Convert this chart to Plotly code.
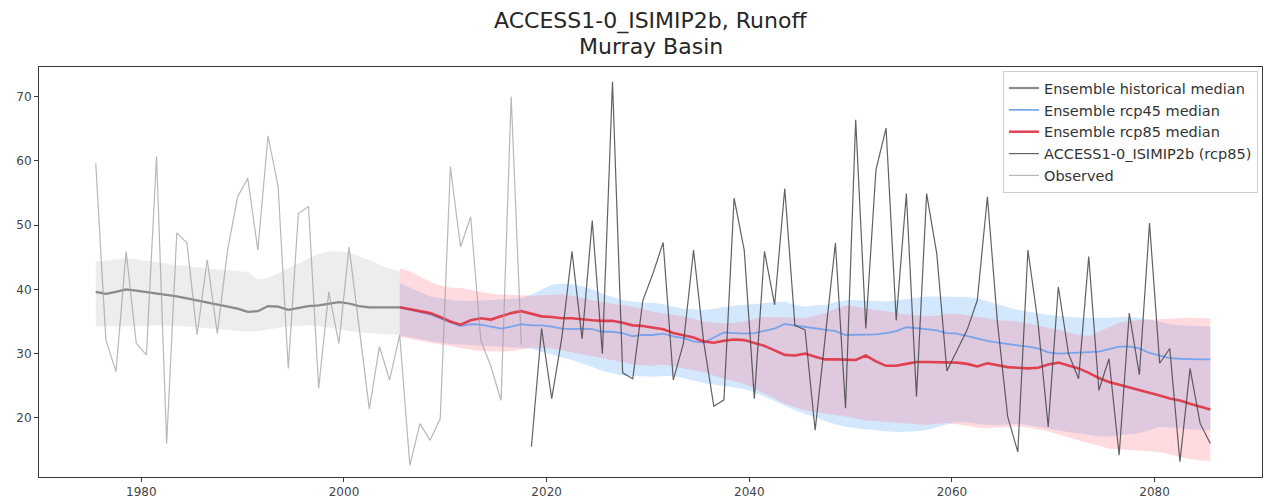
import plotly.graph_objects as go

# ---------------- data ----------------
hist_years = list(range(1975, 2006))
hist_median = [39.6, 39.3, 39.6, 40.0, 39.8, 39.6, 39.3, 39.1, 38.9, 38.6, 38.3, 37.9, 37.6, 37.3, 37.0, 36.5,
               36.6, 37.4, 37.3, 36.8, 37.1, 37.4, 37.5, 37.7, 38.0, 37.8, 37.4, 37.2, 37.2, 37.2, 37.2]
hist_hi = [44.3, 44.5, 44.6, 44.8, 44.7, 44.4, 44.2, 44.0, 43.8, 43.6, 43.4, 43.2, 43.1, 43.0, 42.9, 42.7,
           41.5, 41.8, 42.5, 43.3, 44.0, 44.8, 45.5, 45.9, 45.9, 45.7, 45.2, 44.5, 43.8, 43.2, 42.8]
hist_lo = [34.2, 34.2, 34.2, 34.3, 34.3, 34.3, 34.4, 34.4, 34.3, 34.2, 34.1, 34.0, 33.9, 33.7, 33.5, 33.4,
           33.5, 33.8, 34.0, 34.2, 34.3, 34.4, 34.3, 34.1, 33.8, 33.5, 33.3, 33.2, 33.1, 33.0, 32.9]

rcp_years = list(range(2005, 2086))
rcp85_median = [37.2, 36.9, 36.6, 36.3, 35.7, 35.0, 34.5, 35.2, 35.5, 35.3, 35.8, 36.3, 36.6, 36.2, 35.8, 35.7,
                35.5, 35.5, 35.3, 35.2, 35.1, 35.1, 34.8, 34.4, 34.3, 34.1, 33.8, 33.2, 32.9, 32.5, 31.9, 31.7,
                32.0, 32.2, 32.1, 31.7, 31.2, 30.5, 29.8, 29.7, 30.0, 29.5, 29.1, 29.1, 29.1, 29.0, 29.7, 28.8,
                28.1, 28.1, 28.4, 28.7, 28.7, 28.7, 28.7, 28.6, 28.4, 28.0, 28.5, 28.2, 27.9, 27.8, 27.7, 27.8,
                28.3, 28.6, 28.2, 27.7, 27.0, 26.2, 25.6, 25.2, 24.8, 24.4, 23.9, 23.5, 23.0, 22.7, 22.2, 21.7,
                21.3]
rcp45_median = [37.2, 36.9, 36.5, 36.1, 35.5, 34.9, 34.3, 34.6, 34.5, 34.2, 33.9, 34.2, 34.6, 34.4, 34.4, 34.2,
                33.9, 33.8, 33.9, 33.8, 33.4, 33.4, 33.2, 32.7, 32.9, 32.9, 33.1, 32.7, 32.4, 31.9, 31.7, 32.5,
                33.3, 33.2, 33.1, 33.2, 33.5, 33.9, 34.6, 34.4, 34.1, 33.9, 33.8, 33.5, 32.9, 32.9, 32.9, 33.0,
                33.2, 33.5, 34.1, 34.0, 33.8, 33.6, 33.2, 33.1, 32.7, 32.3, 32.0, 31.7, 31.5, 31.4, 31.1, 30.8,
                30.2, 30.0, 30.1, 30.1, 30.2, 30.3, 30.7, 31.1, 31.1, 30.8, 30.1, 29.7, 29.3, 29.2, 29.1, 29.1,
                29.1]
rcp85_hi = [43.3, 42.8, 42.0, 41.2, 40.6, 40.3, 40.2, 39.9, 39.6, 39.3, 39.2, 39.1, 39.0, 39.0, 39.1, 39.2,
            39.2, 39.0, 38.6, 38.3, 38.0, 37.8, 37.5, 37.3, 36.9, 36.5, 36.3, 36.1, 35.8, 35.4, 35.0, 34.8,
            34.7, 34.8, 35.0, 35.4, 35.7, 35.7, 35.7, 35.6, 35.5, 35.9, 36.3, 37.0, 37.5, 37.3, 37.0, 36.8,
            36.6, 36.3, 36.1, 36.0, 35.8, 35.9, 36.2, 36.2, 36.0, 35.7, 35.5, 35.2, 35.1, 35.0, 34.7, 34.4,
            34.0, 33.7, 33.3, 32.9, 32.7, 33.4, 34.2, 34.8, 35.1, 35.2, 35.3, 35.4, 35.5, 35.6, 35.6, 35.5,
            35.5]
rcp85_lo = [32.6, 32.3, 32.0, 31.7, 31.4, 31.1, 30.9, 30.6, 30.4, 30.3, 30.3, 30.4, 30.6, 30.9, 30.9, 30.8,
            30.5, 30.2, 29.9, 29.7, 29.4, 29.1, 28.7, 28.3, 28.2, 28.1, 28.3, 28.0, 27.7, 27.4, 27.1, 26.6,
            26.1, 25.7, 25.3, 24.6, 23.8, 23.0, 22.2, 21.7, 21.2, 20.9, 20.7, 20.4, 20.2, 19.9, 19.6, 19.5,
            19.4, 19.2, 19.1, 19.0, 18.9, 19.1, 19.2, 19.0, 18.7, 18.5, 18.4, 18.5, 18.7, 18.7, 18.5, 18.2,
            17.9, 17.4, 16.9, 16.5, 16.1, 15.7, 15.2, 15.1, 15.0, 14.9, 14.8, 14.7, 14.3, 13.9, 13.6, 13.4,
            13.3]
rcp45_hi = [41.0, 40.3, 39.5, 38.9, 38.6, 38.4, 38.2, 38.2, 38.3, 38.4, 38.5, 38.6, 38.6, 39.2, 39.9, 40.7,
            40.9, 40.8, 40.5, 40.0, 39.3, 38.8, 38.3, 38.1, 37.9, 37.9, 37.7, 37.3, 37.0, 36.9, 36.8, 37.0,
            37.3, 37.5, 37.6, 37.7, 37.8, 38.0, 38.1, 37.6, 37.3, 37.5, 37.6, 38.0, 38.3, 38.3, 38.3, 38.2,
            38.1, 38.3, 38.6, 38.8, 38.9, 38.9, 38.9, 38.9, 38.8, 38.6, 38.1, 37.6, 37.2, 36.8, 36.6, 36.3,
            36.0, 35.8, 35.7, 35.6, 35.6, 35.5, 35.6, 35.7, 35.7, 35.6, 35.3, 34.9, 34.6, 34.4, 34.3, 34.2,
            34.2]
rcp45_lo = [32.8, 32.5, 32.2, 31.9, 31.7, 31.5, 31.4, 31.3, 31.2, 31.1, 31.0, 30.9, 30.8, 30.8, 30.3, 29.8,
            29.4, 29.0, 28.5, 27.9, 27.3, 26.9, 26.6, 26.5, 26.4, 26.4, 26.5, 26.5, 26.2, 25.8, 25.4, 25.2,
            25.0, 24.8, 24.5, 24.0, 23.3, 22.5, 21.8, 21.2, 20.6, 20.0, 19.5, 19.0, 18.6, 18.4, 18.2, 18.0,
            17.9, 17.8, 17.8, 17.9, 18.1, 18.5, 19.0, 19.4, 19.3, 19.1, 18.9, 18.9, 19.0, 19.1, 18.9, 18.6,
            18.3, 18.0, 17.8, 17.6, 17.3, 17.1, 17.1, 17.3, 17.5, 17.6, 18.1, 18.6, 18.5, 18.3, 18.2, 18.1,
            18.1]

obs_years = list(range(1975, 2018))
observed = [59.6, 32.1, 27.2, 45.9, 31.6, 29.8, 60.7, 16.0, 48.8, 47.2, 32.9, 44.6, 33.1, 46.0, 54.4, 57.3,
            46.1, 63.9, 56.0, 27.7, 51.8, 52.9, 24.6, 39.6, 31.6, 46.6, 34.0, 21.4, 31.1, 25.9, 32.9, 12.6,
            19.1, 16.5, 19.9, 59.1, 46.6, 51.3, 32.1, 28.0, 22.7, 70.0, 31.5]

model_years = list(range(2018, 2086))
model_rcp85 = [15.5, 33.9, 23.0, 32.5, 45.9, 32.3, 50.7, 30.0, 72.3, 27.0, 26.1, 38.3, 42.5, 47.3, 25.9, 31.6,
               46.1, 31.8, 21.8, 22.8, 54.2, 46.1, 23.0, 45.9, 37.6, 55.7, 34.4, 33.7, 18.1, 32.6, 47.2, 21.5,
               66.4, 33.9, 58.6, 65.1, 35.2, 54.9, 23.3, 54.9, 45.6, 27.3, 30.5, 33.7, 38.3, 54.4, 34.7, 20.2,
               14.7, 46.1, 34.7, 18.6, 40.4, 30.0, 26.1, 45.1, 24.3, 29.2, 14.2, 36.3, 26.7, 50.3, 28.5, 30.8,
               13.2, 27.7, 19.1, 16.0]

x_ticks = [1980, 2000, 2020, 2040, 2060, 2080]
y_ticks = [20, 30, 40, 50, 60, 70]
title_line1 = "ACCESS1-0_ISIMIP2b, Runoff"
title_line2 = "Murray Basin"


def mid(years):
    # annual values plotted at mid-year
    return [y + 0.5 for y in years]


fig = go.Figure()


def band(x, hi, lo, color):
    fig.add_trace(go.Scatter(x=x, y=hi, mode="lines", line=dict(width=0), showlegend=False,
                             hoverinfo="skip"))
    fig.add_trace(go.Scatter(x=x, y=lo, mode="lines", line=dict(width=0), fill="tonexty",
                             fillcolor=color, showlegend=False, hoverinfo="skip"))


band(mid(hist_years), hist_hi, hist_lo, "rgba(200,200,200,0.32)")
band(mid(rcp_years), rcp45_hi, rcp45_lo, "rgba(110,175,250,0.30)")
band(mid(rcp_years), rcp85_hi, rcp85_lo, "rgba(255,110,130,0.25)")

fig.add_trace(go.Scatter(x=mid(hist_years), y=hist_median, mode="lines", name="Ensemble historical median",
                         line=dict(color="rgba(120,120,120,0.85)", width=2.2)))
fig.add_trace(go.Scatter(x=mid(rcp_years), y=rcp45_median, mode="lines", name="Ensemble rcp45 median",
                         line=dict(color="rgba(110,160,235,0.9)", width=1.8)))
fig.add_trace(go.Scatter(x=mid(rcp_years), y=rcp85_median, mode="lines", name="Ensemble rcp85 median",
                         line=dict(color="rgba(225,40,55,0.85)", width=2.6)))
fig.add_trace(go.Scatter(x=mid(model_years), y=model_rcp85, mode="lines", name="ACCESS1-0_ISIMIP2b (rcp85)",
                         line=dict(color="rgba(70,70,70,0.85)", width=1.2)))
fig.add_trace(go.Scatter(x=mid(obs_years), y=observed, mode="lines", name="Observed",
                         line=dict(color="rgba(160,160,160,0.75)", width=1.2)))

axis_common = dict(showline=True, mirror=True, linecolor="#3a3a3a", linewidth=1, showgrid=False,
                   zeroline=False, ticks="outside", ticklen=4, tickcolor="#3a3a3a",
                   tickfont=dict(family="DejaVu Sans", size=12, color="#444"))

title_font = dict(family="DejaVu Sans", size=22, color="#262626")

fig.update_layout(
    width=1265, height=504,
    margin=dict(l=39, r=3, t=67, b=27),
    paper_bgcolor="white", plot_bgcolor="white",
    font=dict(family="DejaVu Sans", color="#262626"),
    xaxis=dict(range=[1969.9, 2090.6], tickvals=x_ticks, **axis_common),
    yaxis=dict(range=[10.8, 74.6], tickvals=y_ticks, **axis_common),
    legend=dict(x=0.9967, y=0.99, xanchor="right", yanchor="top", bgcolor="rgba(255,255,255,0.85)",
                bordercolor="#d0d0d0", borderwidth=1, font=dict(family="DejaVu Sans", size=14.5, color="#333"),
                itemwidth=30, tracegroupgap=0, traceorder="normal"),
    showlegend=True,
    annotations=[
        dict(text=title_line1, xref="paper", yref="paper", x=0.5, y=1.112, xanchor="center",
             yanchor="middle", showarrow=False, font=title_font),
        dict(text=title_line2, xref="paper", yref="paper", x=0.5, y=1.049, xanchor="center",
             yanchor="middle", showarrow=False, font=title_font),
    ],
)

fig.write_html("out.html")
